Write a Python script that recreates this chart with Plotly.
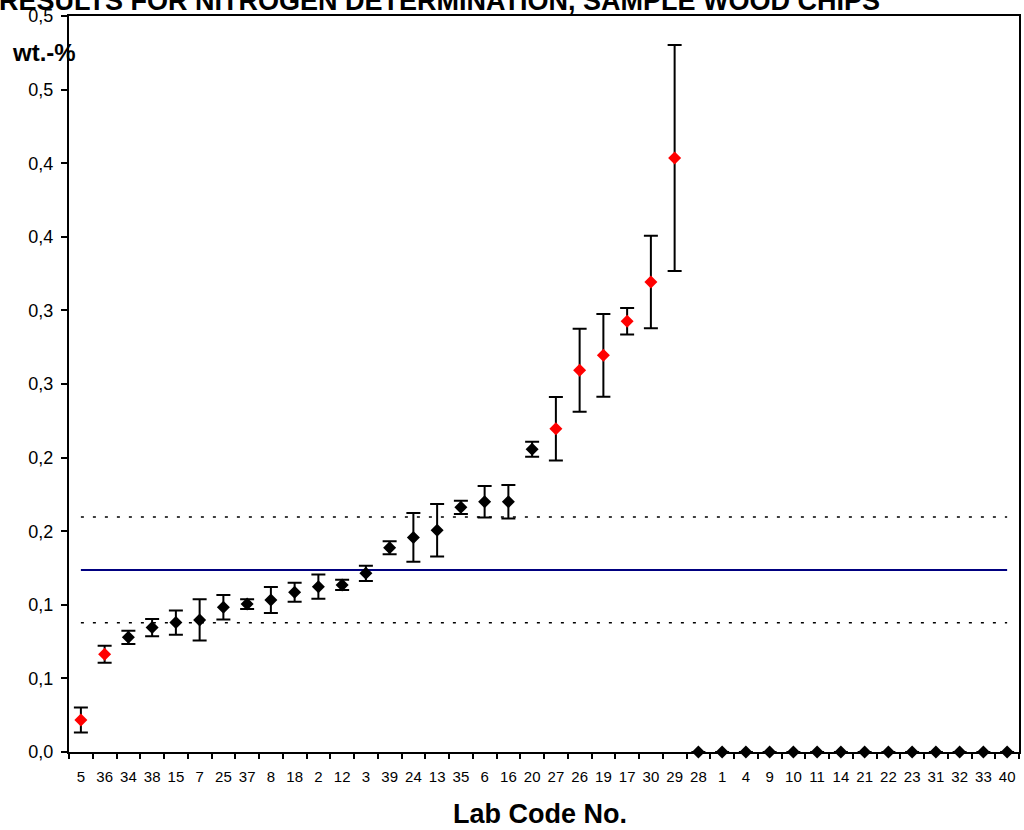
import plotly.graph_objects as go

# ---- data ----
lab_codes = ["5", "36", "34", "38", "15", "7", "25", "37", "8", "18", "2", "12", "3",
             "39", "24", "13", "35", "6", "16", "20", "27", "26", "19", "17", "30", "29",
             "28", "1", "4", "9", "10", "11", "14", "21", "22", "23", "31", "32", "33", "40"]
nitrogen = [0.0217, 0.0664, 0.0779, 0.0845, 0.0879, 0.0897, 0.0983, 0.1005, 0.1033,
            0.1085, 0.1123, 0.1135, 0.1214, 0.1388, 0.1458, 0.1506, 0.1662, 0.1700,
            0.1700, 0.2056, 0.2196, 0.2593, 0.2695, 0.2926, 0.3193, 0.4035,
            0, 0, 0, 0, 0, 0, 0, 0, 0, 0, 0, 0, 0, 0]
std_dev = [0.0085, 0.0058, 0.0045, 0.0059, 0.0083, 0.0140, 0.0083, 0.0033, 0.0088,
           0.0065, 0.0082, 0.0035, 0.0052, 0.0044, 0.0166, 0.0178, 0.0045, 0.0107,
           0.0114, 0.0051, 0.0216, 0.0282, 0.0281, 0.0090, 0.0314, 0.0768,
           0, 0, 0, 0, 0, 0, 0, 0, 0, 0, 0, 0, 0, 0]
outlier_labs = ["5", "36", "27", "26", "19", "17", "30", "29"]
mean_value = 0.1236
upper_limit = 0.1596
lower_limit = 0.0878
y_tick_values = [0.0, 0.05, 0.10, 0.15, 0.20, 0.25, 0.30, 0.35, 0.40, 0.45, 0.50]
y_tick_labels = ["0,0", "0,1", "0,1", "0,2", "0,2", "0,3", "0,3", "0,4", "0,4", "0,5", "0,5"]

FONT = "Arial, Liberation Sans, sans-serif"

colors = ["#FF0000" if c in outlier_labs else "#000000" for c in lab_codes]

fig = go.Figure()

fig.add_trace(go.Scatter(
    x=lab_codes, y=[upper_limit] * len(lab_codes), mode="lines",
    line=dict(color="#000000", width=1.5, dash="3px,9px"), hoverinfo="skip"))
fig.add_trace(go.Scatter(
    x=lab_codes, y=[lower_limit] * len(lab_codes), mode="lines",
    line=dict(color="#000000", width=1.5, dash="3px,9px"), hoverinfo="skip"))
fig.add_trace(go.Scatter(
    x=lab_codes, y=[mean_value] * len(lab_codes), mode="lines",
    line=dict(color="#000080", width=2), hoverinfo="skip"))

fig.add_trace(go.Scatter(
    x=lab_codes, y=nitrogen, mode="markers",
    marker=dict(symbol="diamond", size=10, color=colors, line=dict(width=0)),
    error_y=dict(type="data", array=std_dev, visible=True, color="#000000",
                 thickness=2, width=7),
    cliponaxis=False))

fig.update_layout(
    width=1024, height=830,
    margin=dict(l=69, r=5, t=16, b=78, autoexpand=False),
    paper_bgcolor="white", plot_bgcolor="white",
    showlegend=False,
    font=dict(family=FONT, color="#000000"),
    xaxis=dict(
        type="category", range=[-0.5, len(lab_codes) - 0.5],
        tickson="boundaries", ticks="outside", ticklen=5, tickwidth=1.5,
        tickcolor="#000000", showline=True, linecolor="#000000", linewidth=2,
        mirror=True, showgrid=False, zeroline=False, automargin=False,
        tickangle=0,
        tickfont=dict(family=FONT, size=15, color="#000000"),
        ticklabelstandoff=10,
    ),
    yaxis=dict(
        range=[0, 0.5], tickmode="array", tickvals=y_tick_values,
        ticktext=y_tick_labels, ticks="outside", ticklen=6, tickwidth=1.5,
        tickcolor="#000000", showline=True, linecolor="#000000", linewidth=2,
        mirror=True, showgrid=False, zeroline=False, automargin=False,
        tickfont=dict(family=FONT, size=18, color="#000000"),
        ticklabelstandoff=4,
    ),
    annotations=[
        dict(text="<b>RESULTS FOR NITROGEN DETERMINATION, SAMPLE WOOD CHIPS</b>",
             xref="paper", yref="paper", x=0.3905, y=1, xanchor="center",
             yanchor="bottom", yshift=-2, showarrow=False,
             font=dict(family=FONT, size=27, color="#000000")),
        dict(text="<b>wt.-%</b>", xref="paper", yref="paper", x=-0.0263, y=0.951,
             xanchor="center", yanchor="middle", showarrow=False,
             font=dict(family=FONT, size=24, color="#000000")),
        dict(text="<b>Lab Code No.</b>", xref="paper", yref="paper", x=0.4953,
             y=-0.0836, xanchor="center", yanchor="middle", showarrow=False,
             font=dict(family=FONT, size=27, color="#000000")),
    ],
)

fig.write_html("out.html", config={"displayModeBar": False},
               post_script="document.body.style.margin='0px';")
